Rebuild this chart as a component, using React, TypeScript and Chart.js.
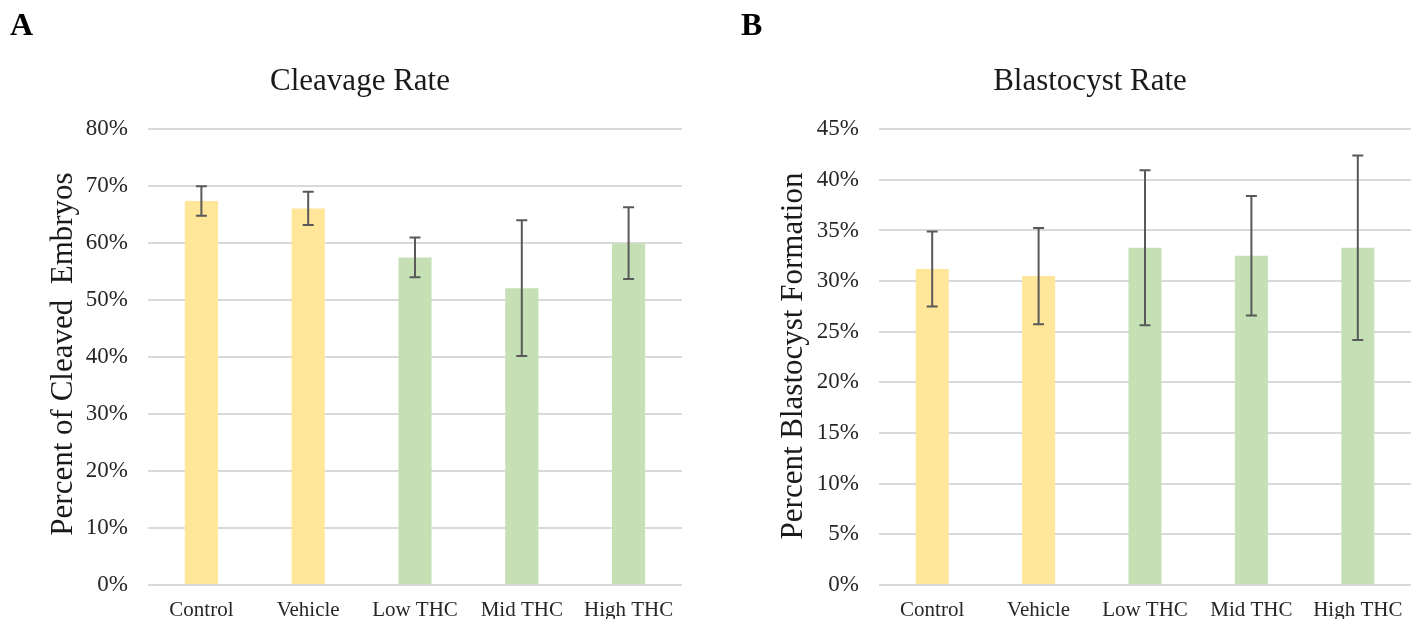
import React, { useEffect, useRef } from "react";
import { Chart, registerables } from "chart.js";

Chart.register(...registerables);

// Treatment groups shared by both panels
const categories = ["Control", "Vehicle", "Low THC", "Mid THC", "High THC"];

// Panel A: cleavage rate (%) and its error
const cleavageRate = [67.4, 66.1, 57.5, 52.1, 60.0];
const cleavageErr = [2.6, 2.9, 3.5, 11.9, 6.3];

// Panel B: blastocyst rate (%) and its error
const blastocystRate = [31.2, 30.5, 33.3, 32.5, 33.3];
const blastocystErr = [3.7, 4.75, 7.65, 5.9, 9.1];

// Axis ranges
const cleavageAxis = { max: 80, step: 10 };
const blastocystAxis = { max: 45, step: 5 };

const YELLOW = "#FFE699";
const GREEN = "#C5E0B4";
const barColors = [YELLOW, YELLOW, GREEN, GREEN, GREEN];

const SERIF = "'Liberation Serif', 'Times New Roman', serif";

type PanelProps = {
  left: number;
  width: number;
  title: string;
  yTitle: string;
  values: number[];
  errors: number[];
  axis: { max: number; step: number };
  padLeft: number;
  padRight: number;
  yWidth: number;
  yTitleX: number;
  yTitleY: number;
};

const H = 619;

function Panel(p: PanelProps) {
  const ref = useRef<HTMLCanvasElement | null>(null);

  useEffect(() => {
    const canvas = ref.current;
    if (!canvas) return;

    // Vertical error bars with caps, centred on each bar
    const errorBars = {
      id: "errorBars",
      afterDatasetsDraw(chart: any) {
        const meta = chart.getDatasetMeta(0);
        const ys = chart.scales.y;
        const ctx = chart.ctx;
        ctx.save();
        ctx.strokeStyle = "#595959";
        ctx.lineWidth = 2;
        p.values.forEach((v, i) => {
          const x = meta.data[i].x;
          const top = ys.getPixelForValue(v + p.errors[i]);
          const bot = ys.getPixelForValue(v - p.errors[i]);
          ctx.beginPath();
          ctx.moveTo(x, top);
          ctx.lineTo(x, bot);
          ctx.moveTo(x - 5.5, top);
          ctx.lineTo(x + 5.5, top);
          ctx.moveTo(x - 5.5, bot);
          ctx.lineTo(x + 5.5, bot);
          ctx.stroke();
        });
        ctx.restore();
      },
    };

    // Rotated y-axis title, read from bottom to top
    const yAxisTitle = {
      id: "yAxisTitle",
      afterDraw(chart: any) {
        const ctx = chart.ctx;
        ctx.save();
        ctx.translate(p.yTitleX, p.yTitleY);
        ctx.rotate(-Math.PI / 2);
        ctx.font = `31px ${SERIF}`;
        ctx.fillStyle = "#1a1a1a";
        ctx.textAlign = "center";
        ctx.textBaseline = "alphabetic";
        ctx.fillText(p.yTitle, 0, 0);
        ctx.restore();
      },
    };

    const chart = new Chart(canvas, {
      type: "bar",
      data: {
        labels: categories,
        datasets: [
          {
            data: p.values,
            backgroundColor: barColors,
            borderWidth: 0,
            categoryPercentage: 0.31,
            barPercentage: 1,
          },
        ],
      },
      options: {
        animation: false,
        responsive: false,
        layout: {
          padding: { left: p.padLeft, right: p.padRight, top: 0, bottom: 0 },
        },
        plugins: {
          legend: { display: false },
          tooltip: { enabled: false },
          title: {
            display: true,
            text: p.title,
            color: "#1a1a1a",
            font: { family: SERIF, size: 31, weight: "normal", lineHeight: 1.2 },
            padding: { top: 63, bottom: 29 },
          },
        },
        scales: {
          x: {
            grid: { display: false, drawTicks: false },
            border: { display: false },
            ticks: {
              color: "#262626",
              font: { family: SERIF, size: 21 },
              padding: 13,
              maxRotation: 0,
              autoSkip: false,
            },
            afterFit(scale: any) {
              scale.height = 34;
            },
          },
          y: {
            min: 0,
            max: p.axis.max,
            grid: { color: "#D9D9D9", lineWidth: 2, drawTicks: false },
            border: { display: false },
            ticks: {
              stepSize: p.axis.step,
              color: "#262626",
              font: { family: SERIF, size: 23 },
              padding: 20,
              callback: (v: any) => `${v}%`,
            },
            afterFit(scale: any) {
              scale.width = p.yWidth;
            },
          },
        },
      },
      plugins: [errorBars, yAxisTitle],
    });

    return () => chart.destroy();
  }, []);

  return (
    <canvas
      ref={ref}
      width={p.width}
      height={H}
      style={{ position: "absolute", left: p.left, top: 0, width: p.width, height: H }}
    />
  );
}

const panelLetter: React.CSSProperties = {
  position: "absolute",
  top: 8,
  fontFamily: SERIF,
  fontWeight: "bold",
  fontSize: 32,
  lineHeight: "32px",
  color: "#000",
};

export default function App() {
  return (
    <div
      style={{
        position: "absolute",
        left: 0,
        top: 0,
        width: 1416,
        height: H,
        overflow: "hidden",
        background: "#fff",
      }}
    >
      <Panel
        left={0}
        width={708}
        title="Cleavage Rate"
        yTitle="Percent of Cleaved  Embryos"
        values={cleavageRate}
        errors={cleavageErr}
        axis={cleavageAxis}
        padLeft={38}
        padRight={26}
        yWidth={110}
        yTitleX={72}
        yTitleY={354}
      />
      <Panel
        left={708}
        width={708}
        title="Blastocyst Rate"
        yTitle="Percent Blastocyst Formation"
        values={blastocystRate}
        errors={blastocystErr}
        axis={blastocystAxis}
        padLeft={61}
        padRight={5}
        yWidth={110}
        yTitleX={94}
        yTitleY={356}
      />
      <div style={{ ...panelLetter, left: 10 }}>A</div>
      <div style={{ ...panelLetter, left: 741 }}>B</div>
    </div>
  );
}
